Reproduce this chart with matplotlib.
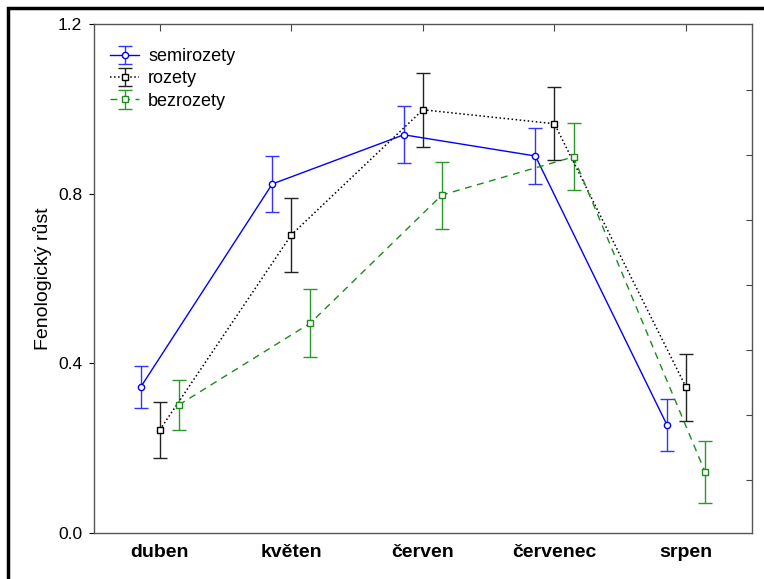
import numpy as np
from matplotlib import pyplot as plt
from matplotlib.patches import Rectangle

plt.rcParams['font.family'] = ['Liberation Sans', 'DejaVu Sans']

months = ['duben', 'květen', 'červen', 'červenec', 'srpen']

semi_mean = [0.344, 0.823, 0.939, 0.889, 0.255]
semi_err = [0.050, 0.066, 0.067, 0.066, 0.062]

roz_mean = [0.243, 0.703, 0.998, 0.965, 0.344]
roz_err = [0.065, 0.088, 0.087, 0.086, 0.079]

bez_mean = [0.302, 0.495, 0.797, 0.887, 0.144]
bez_err = [0.059, 0.080, 0.079, 0.079, 0.074]

right_ticks = [0.125, 0.278, 0.432, 0.585, 0.738, 0.892, 1.045]

x = np.arange(len(months))
shift = 0.145

fig = plt.figure(figsize=(7.64, 5.79), dpi=100)
ax = fig.add_axes([0.123, 0.0794, 0.861, 0.879])

ax.errorbar(x - shift, semi_mean, yerr=semi_err, color='#0000ff', ecolor='#3333ff',
            linestyle='-', linewidth=1.0, elinewidth=1.0, capsize=5, capthick=1.0,
            marker='o', markersize=4.5, markerfacecolor='white', markeredgecolor='#0000ff',
            label='semirozety')
ax.errorbar(x, roz_mean, yerr=roz_err, color='#000000', ecolor='#222222',
            linestyle=':', linewidth=1.1, elinewidth=1.0, capsize=5, capthick=1.0,
            marker='s', markersize=4, markerfacecolor='white', markeredgecolor='#000000',
            label='rozety')
ax.errorbar(x + shift, bez_mean, yerr=bez_err, color='#1a8c1a', ecolor='#2a992a',
            linestyle=(0, (5, 4)), linewidth=1.0, elinewidth=1.0, capsize=5, capthick=1.0,
            marker='s', markersize=4, markerfacecolor='white', markeredgecolor='#1a8c1a',
            label='bezrozety')

ax.set_xlim(-0.5, 4.5)
ax.set_ylim(0, 1.2)
ax.set_yticks([0.0, 0.4, 0.8, 1.2])
ax.set_yticklabels(['0.0', '0.4', '0.8', '1.2'], fontsize=12.5)
ax.set_xticks(x)
ax.set_xticklabels(months, fontsize=14, fontweight='bold')
ax.tick_params(axis='x', top=True, bottom=False, direction='in', length=5,
               color='#444444', pad=8)
ax.tick_params(axis='y', left=False, right=False, pad=5)
ax.set_ylabel('Fenologický růst', fontsize=14, labelpad=4)

for sp in ax.spines.values():
    sp.set_color('#555555')
    sp.set_linewidth(1.0)

ax2 = ax.twinx()
ax2.set_ylim(0, 1.2)
ax2.set_yticks(right_ticks)
ax2.tick_params(axis='y', direction='in', length=4, color='#444444', labelright=False)
for sp in ax2.spines.values():
    sp.set_visible(False)

leg = ax.legend(loc='upper left', bbox_to_anchor=(0.0, 0.985), frameon=False,
                fontsize=13, handlelength=1.6, handletextpad=0.5, labelspacing=0.3,
                borderaxespad=0.5)

# heavy frame along the left and top edges
fig.patches.append(Rectangle((0.01, -0.1), 1.2, 1.087, transform=fig.transFigure,
                             fill=False, edgecolor='black', linewidth=2.5))

fig.savefig('out.png', dpi=100)
